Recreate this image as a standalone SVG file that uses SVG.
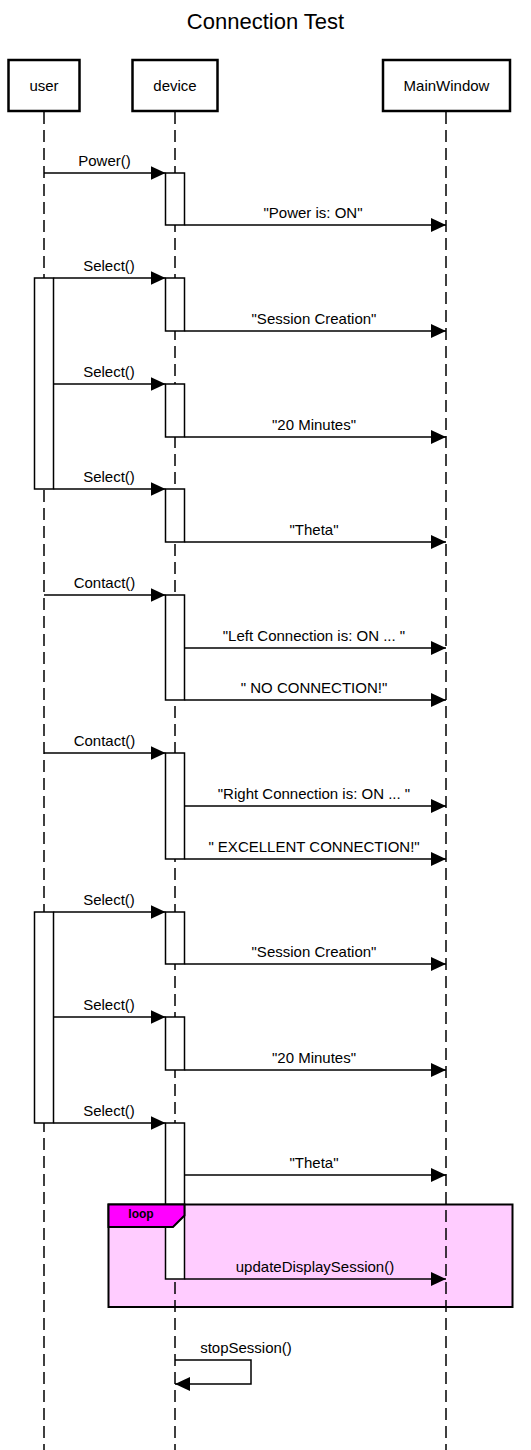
<svg xmlns="http://www.w3.org/2000/svg" width="531" height="1450" viewBox="0 0 531 1450">
<defs>
<marker id="ah" markerUnits="userSpaceOnUse" markerWidth="15" markerHeight="14" refX="15" refY="7" orient="auto">
<path d="M0,0 L15,7 L0,14 z" fill="#000"/>
</marker>
</defs>
<style>
text{font-family:"Liberation Sans",Arial,Helvetica,sans-serif;fill:#000}
.title{font-size:22px;text-anchor:middle}
.pbox{fill:#fff;stroke:#000;stroke-width:2.5}
.plabel{font-size:15px;text-anchor:middle}
.life{stroke:#000;stroke-width:1.5;stroke-dasharray:12 6;fill:none}
.bar{fill:#fff;stroke:#000;stroke-width:1.5}
.msg{stroke:#000;stroke-width:1.5;fill:none;marker-end:url(#ah)}
.lbl{font-size:15px;text-anchor:middle}
.frame{fill:#FFCCFF;stroke:none}
.frameb{fill:none;stroke:#000;stroke-width:2}
.tab{fill:#FF00FF;stroke:#000;stroke-width:2}
.tabl{font-size:12px;font-weight:bold;text-anchor:middle}
</style>
<text class="title" x="265.5" y="29">Connection Test</text>
<g id="user"><rect class="pbox" x="8.5" y="60" width="71" height="51"/><text class="plabel" x="44" y="91">user</text></g>
<g id="device"><rect class="pbox" x="132.5" y="60" width="85" height="51"/><text class="plabel" x="175" y="91">device</text></g>
<g id="MainWindow"><rect class="pbox" x="383" y="60" width="127" height="51"/><text class="plabel" x="446.5" y="91">MainWindow</text></g>
<rect id="loop-bg" class="frame" x="108.5" y="1204.5" width="404" height="102.5"/>
<g id="lifelines">
<line class="life" x1="44" y1="112" x2="44" y2="1450"/>
<line class="life" x1="175" y1="112" x2="175" y2="1450"/>
<line class="life" x1="446" y1="112" x2="446" y2="1450"/>
</g>
<g id="activations">
<rect class="bar" x="34.5" y="278" width="19" height="211"/>
<rect class="bar" x="34.5" y="912" width="19" height="211"/>
<rect class="bar" x="165.5" y="173" width="19" height="52"/>
<rect class="bar" x="165.5" y="278" width="19" height="53"/>
<rect class="bar" x="165.5" y="384" width="19" height="53"/>
<rect class="bar" x="165.5" y="489" width="19" height="53"/>
<rect class="bar" x="165.5" y="595" width="19" height="105"/>
<rect class="bar" x="165.5" y="753" width="19" height="106"/>
<rect class="bar" x="165.5" y="912" width="19" height="52"/>
<rect class="bar" x="165.5" y="1017" width="19" height="53"/>
<rect class="bar" x="165.5" y="1123" width="19" height="156"/>
</g>
<g id="loop">
<rect class="frameb" x="108.5" y="1204.5" width="404" height="102.5"/>
<path class="tab" d="M108.5,1204.5 H184.5 V1215.5 L173,1227 H108.5 Z"/>
<text class="tabl" x="141" y="1218">loop</text>
</g>
<g id="connectors">
<line class="msg" x1="44" y1="173" x2="165.5" y2="173"/>
<text class="lbl" x="104.5" y="166">Power()</text>
<line class="msg" x1="184.5" y1="225" x2="446" y2="225"/>
<text class="lbl" x="313" y="218">"Power is: ON"</text>

<line class="msg" x1="53.5" y1="278" x2="165.5" y2="278"/>
<text class="lbl" x="109" y="271">Select()</text>
<line class="msg" x1="184.5" y1="331" x2="446" y2="331"/>
<text class="lbl" x="314" y="324">"Session Creation"</text>

<line class="msg" x1="53.5" y1="384" x2="165.5" y2="384"/>
<text class="lbl" x="109" y="377">Select()</text>
<line class="msg" x1="184.5" y1="437" x2="446" y2="437"/>
<text class="lbl" x="314" y="430">"20 Minutes"</text>

<line class="msg" x1="53.5" y1="489" x2="165.5" y2="489"/>
<text class="lbl" x="109" y="482">Select()</text>
<line class="msg" x1="184.5" y1="542" x2="446" y2="542"/>
<text class="lbl" x="314" y="535">"Theta"</text>

<line class="msg" x1="44" y1="595" x2="165.5" y2="595"/>
<text class="lbl" x="104.5" y="588">Contact()</text>
<line class="msg" x1="184.5" y1="648" x2="446" y2="648"/>
<text class="lbl" x="314" y="641">"Left Connection is: ON ... "</text>
<line class="msg" x1="184.5" y1="700" x2="446" y2="700"/>
<text class="lbl" x="314" y="693">" NO CONNECTION!"</text>

<line class="msg" x1="44" y1="753" x2="165.5" y2="753"/>
<text class="lbl" x="104.5" y="746">Contact()</text>
<line class="msg" x1="184.5" y1="806" x2="446" y2="806"/>
<text class="lbl" x="314" y="799">"Right Connection is: ON ... "</text>
<line class="msg" x1="184.5" y1="859" x2="446" y2="859"/>
<text class="lbl" x="314" y="852">" EXCELLENT CONNECTION!"</text>

<line class="msg" x1="53.5" y1="912" x2="165.5" y2="912"/>
<text class="lbl" x="109" y="905">Select()</text>
<line class="msg" x1="184.5" y1="964" x2="446" y2="964"/>
<text class="lbl" x="314" y="957">"Session Creation"</text>

<line class="msg" x1="53.5" y1="1017" x2="165.5" y2="1017"/>
<text class="lbl" x="109" y="1010">Select()</text>
<line class="msg" x1="184.5" y1="1070" x2="446" y2="1070"/>
<text class="lbl" x="314" y="1063">"20 Minutes"</text>

<line class="msg" x1="53.5" y1="1123" x2="165.5" y2="1123"/>
<text class="lbl" x="109" y="1116">Select()</text>
<line class="msg" x1="184.5" y1="1175" x2="446" y2="1175"/>
<text class="lbl" x="314" y="1168">"Theta"</text>

<line class="msg" x1="184.5" y1="1279" x2="446" y2="1279"/>
<text class="lbl" x="315" y="1272">updateDisplaySession()</text>

<path class="msg" d="M175,1360 H251 V1384 H175"/>
<text class="lbl" x="246" y="1353">stopSession()</text>
</g>
</svg>
